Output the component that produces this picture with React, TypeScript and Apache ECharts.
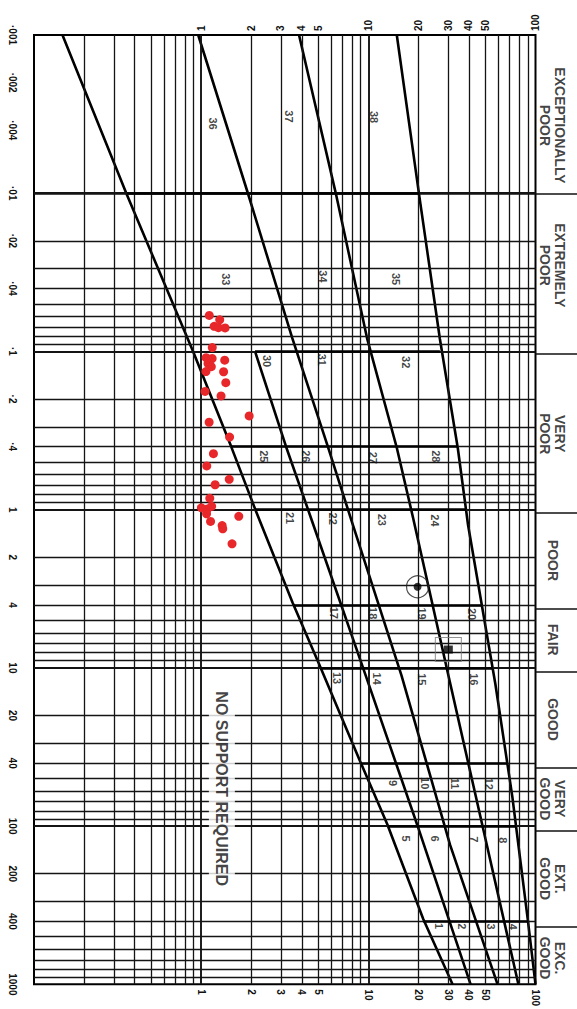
import React, { useEffect, useRef } from 'react';
import * as echarts from 'echarts';

const FONT = 'Liberation Sans';

// Axis tick labels
const deTickValues = [1, 2, 3, 4, 5, 10, 20, 30, 40, 50, 100];
const deTickTexts = ['1', '2', '3', '4', '5', '10', '20', '30', '40', '50', '100'];
const qTickValues = [0.001, 0.002, 0.004, 0.01, 0.02, 0.04, 0.1, 0.2, 0.4, 1, 2, 4, 10, 20, 40, 100, 200, 400, 1000];
const qTickTexts = ['·001', '·002', '·004', '·01', '·02', '·04', '·1', '·2', '·4', '1', '2', '4', '10', '20', '40', '100', '200', '400', '1000'];

// Log grid lines
const deMinorLines = [0.2, 0.3, 0.4, 0.5, 0.6, 0.7, 0.8, 0.9, 2, 3, 4, 5, 6, 7, 8, 9, 20, 30, 40, 50, 60, 70, 80, 90];
const deDecadeLines = [1, 10];
const qMinorLines = [
  0.002, 0.003, 0.004, 0.005, 0.006, 0.007, 0.008, 0.009,
  0.02, 0.03, 0.04, 0.05, 0.06, 0.07, 0.08, 0.09,
  0.2, 0.3, 0.4, 0.5, 0.6, 0.7, 0.8, 0.9,
  2, 3, 4, 5, 6, 7, 8, 9,
  20, 30, 40, 50, 60, 70, 80, 90,
  200, 300, 400, 500, 600, 700, 800, 900,
];
const qDecadeLines = [0.01, 0.1, 1, 10, 100];

// Heavy support-category boundary curves, [De, Q]
const boundary1 = [[0.148, 0.001], [0.359, 0.0102], [0.895, 0.1], [1.51, 0.398], [2.11, 1], [3.52, 3.86], [5.08, 9.49], [8.9, 38.6], [13.0, 97.7], [21.3, 387], [31.9, 1000]];
const boundary2 = [[2.1, 0.1], [3.22, 0.4], [4.5, 1.1], [9.65, 11.2], [19.6, 98], [40.9, 1000]];
const boundary3 = [[0.96, 0.001], [1.92, 0.0103], [3.5, 0.0818], [5.74, 0.402], [7.8, 1.11], [15.8, 11.2], [30.8, 131], [59.3, 1000]];
const boundary4 = [[3.85, 0.001], [6.44, 0.0104], [9.83, 0.0826], [14.8, 0.406], [18.5, 1.12], [30.2, 11.3], [51.2, 132], [79, 1000]];
const boundary5 = [[14.8, 0.001], [20.2, 0.0105], [26.8, 0.0834], [34.3, 0.409], [39.5, 1.25], [57.5, 12.6], [72.6, 64.6], [90, 393], [100, 1000]];

// Heavy horizontal category boundaries
const segmentQ = [0.01, 0.1, 0.4, 1, 4, 10, 40, 100, 400];
const segmentStartDe = [0.36, 2.1, 1.51, 2.11, 3.57, 5.15, 9.0, 13.1, 21.3];
const segmentEndDe = [20.2, 26.8, 34.3, 38.4, 47.8, 55.5, 67.8, 76.5, 90];

// Support category numbers
const categoryNames = ['1', '2', '3', '4', '5', '6', '7', '8', '9', '10', '11', '12', '13', '14', '15', '16', '17', '18', '19', '20', '21', '22', '23', '24', '25', '26', '27', '28', '30', '31', '32', '33', '34', '35', '36', '37', '38'];
const categoryDe = [26.5, 36.4, 54.2, 73.4, 16.8, 25, 42.8, 63.8, 14, 21.7, 32.8, 53, 6.48, 11.2, 20.8, 42.6, 6.27, 10.6, 21, 41.8, 3.42, 6.17, 12.1, 25.1, 2.38, 4.24, 10.6, 25.3, 2.47, 5.27, 16.9, 1.4, 5.34, 14.7, 1.17, 3.37, 10.8];
const categoryQ = [429, 430, 432, 433, 120, 120, 121, 123, 53.4, 53.6, 53.8, 54, 11.6, 11.7, 11.8, 11.8, 4.49, 4.51, 4.54, 4.57, 1.13, 1.14, 1.16, 1.17, 0.46, 0.46, 0.47, 0.46, 0.115, 0.113, 0.117, 0.035, 0.0336, 0.0349, 0.00363, 0.00327, 0.0033];

// Rock mass classes (right column)
const rockClasses = ['EXCEPTIONALLY\nPOOR', 'EXTREMELY\nPOOR', 'VERY\nPOOR', 'POOR', 'FAIR', 'GOOD', 'VERY\nGOOD', 'EXT.\nGOOD', 'EXC.\nGOOD'];
const rockClassQ = [0.0037, 0.028, 0.32, 2, 6.3, 20, 63, 200, 630];
const rockClassSeparators = [0.01, 0.1, 1, 4, 10, 40, 100, 400];

// Observed cases (red dots)
const dotDe = [1.118, 1.291, 1.196, 1.268, 1.39, 1.165, 1.071, 1.163, 1.099, 1.15, 1.068, 1.383, 1.362, 1.404, 1.055, 1.315, 1.937, 1.116, 1.479, 1.184, 1.08, 1.472, 1.212, 1.126, 1.003, 1.089, 1.155, 1.077, 1.138, 1.679, 1.335, 1.346, 1.53];
const dotQ = [0.0592, 0.0631, 0.0694, 0.0708, 0.071, 0.0945, 0.1095, 0.1108, 0.119, 0.1249, 0.134, 0.1136, 0.1344, 0.1576, 0.1789, 0.191, 0.2556, 0.2803, 0.3476, 0.4429, 0.529, 0.643, 0.696, 0.848, 0.973, 0.989, 0.952, 1.062, 1.187, 1.102, 1.26, 1.321, 1.643];

// Example points
const circledPoint = [19.7, 3.07];
const boxedPoint = [30.1, 7.66];

const noSupportText = 'NO SUPPORT REQUIRED';
const noSupportPos = [1.33, 58];

function lookup(values: number[], texts: string[], v: number) {
  const i = values.findIndex((q) => Math.abs(Math.log10(q) - Math.log10(v)) < 1e-6);
  return i >= 0 ? texts[i] : '';
}

const INK = '#141414';

function buildOption() {
  const boundaryLine = (name: string, data: number[][]) => ({
    name,
    type: 'line',
    xAxisIndex: 0,
    yAxisIndex: 0,
    data,
    showSymbol: false,
    symbol: 'none',
    silent: true,
    z: 4,
    lineStyle: { color: '#000', width: 2.6 },
  });

  const deAxis = (position: 'top' | 'bottom', margin: number) => ({
    type: 'log',
    logBase: 10,
    min: 0.1,
    max: 100,
    gridIndex: 0,
    position,
    axisLine: { show: false },
    axisTick: { show: false },
    splitLine: { show: false },
    minorSplitLine: { show: false },
    axisLabel: {
      customValues: deTickValues,
      rotate: -90,
      margin,
      fontSize: 10,
      fontWeight: 'bold',
      fontFamily: FONT,
      color: '#111',
      formatter: (v: number) => lookup(deTickValues, deTickTexts, v),
    },
  });

  return {
    animation: false,
    backgroundColor: '#ffffff',
    grid: [
      { left: 34, right: 41.5, top: 35, bottom: 19, show: true, borderColor: '#000', borderWidth: 2, backgroundColor: 'transparent', containLabel: false },
      { left: 535.5, right: 0, top: 35, bottom: 19, show: false, containLabel: false },
    ],
    xAxis: [
      deAxis('top', 4),
      deAxis('bottom', 5),
      { type: 'value', min: 0, max: 1, gridIndex: 1, show: false },
    ],
    yAxis: [
      {
        type: 'log',
        logBase: 10,
        min: 0.001,
        max: 1000,
        inverse: true,
        gridIndex: 0,
        axisLine: { show: false },
        axisTick: { show: false },
        splitLine: { show: false },
        axisLabel: {
          customValues: qTickValues,
          rotate: -90,
          margin: 17,
          fontSize: 10,
          fontWeight: 'bold',
          fontFamily: FONT,
          color: '#111',
          formatter: (v: number) => lookup(qTickValues, qTickTexts, v),
        },
      },
      { type: 'log', logBase: 10, min: 0.001, max: 1000, inverse: true, gridIndex: 1, show: false },
    ],
    series: [
      {
        name: 'grid',
        type: 'line',
        xAxisIndex: 0,
        yAxisIndex: 0,
        data: [],
        silent: true,
        z: 1,
        markLine: {
          silent: true,
          symbol: ['none', 'none'],
          label: { show: false },
          emphasis: { disabled: true },
          animation: false,
          lineStyle: { color: INK, width: 1.3, type: 'solid' },
          data: [
            ...deMinorLines.map((v) => ({ xAxis: v })),
            ...deDecadeLines.map((v) => ({ xAxis: v, lineStyle: { color: INK, width: 1.9, type: 'solid' } })),
            ...qMinorLines.map((v) => ({ yAxis: v })),
            ...qDecadeLines.map((v) => ({ yAxis: v, lineStyle: { color: INK, width: 1.9, type: 'solid' } })),
          ],
        },
      },
      {
        name: 'category boundaries',
        type: 'line',
        xAxisIndex: 0,
        yAxisIndex: 0,
        data: [],
        silent: true,
        z: 3,
        markLine: {
          silent: true,
          symbol: ['none', 'none'],
          label: { show: false },
          emphasis: { disabled: true },
          animation: false,
          lineStyle: { color: '#000', width: 2.6, type: 'solid' },
          data: segmentQ.map((q, i) => [{ coord: [segmentStartDe[i], q] }, { coord: [segmentEndDe[i], q] }]),
        },
      },
      boundaryLine('b1', boundary1),
      boundaryLine('b2', boundary2),
      boundaryLine('b3', boundary3),
      boundaryLine('b4', boundary4),
      boundaryLine('b5', boundary5),
      {
        name: 'category numbers',
        type: 'scatter',
        xAxisIndex: 0,
        yAxisIndex: 0,
        symbol: 'circle',
        symbolSize: 1,
        silent: true,
        z: 5,
        itemStyle: { color: 'rgba(0,0,0,0)' },
        label: {
          show: true,
          position: 'inside',
          rotate: -90,
          fontSize: 11,
          fontWeight: 'bold',
          fontFamily: FONT,
          color: '#111',
          formatter: (p: any) => p.name,
        },
        data: categoryNames.map((n, i) => ({ name: n, value: [categoryDe[i], categoryQ[i]] })),
      },
      {
        name: 'no support',
        type: 'scatter',
        xAxisIndex: 0,
        yAxisIndex: 0,
        symbol: 'circle',
        symbolSize: 1,
        silent: true,
        z: 5,
        itemStyle: { color: 'rgba(0,0,0,0)' },
        label: {
          show: true,
          position: 'inside',
          rotate: -90,
          fontSize: 16,
          fontWeight: 'bold',
          fontFamily: FONT,
          color: '#111',
          backgroundColor: '#ffffff',
          padding: [5, 3],
          formatter: () => noSupportText,
        },
        data: [{ name: 'text', value: noSupportPos }],
      },
      {
        name: 'circled example',
        type: 'scatter',
        xAxisIndex: 0,
        yAxisIndex: 0,
        symbol: 'circle',
        symbolSize: 22,
        silent: true,
        z: 6,
        itemStyle: { color: 'rgba(255,255,255,0)', borderColor: '#222', borderWidth: 1.2 },
        data: [circledPoint],
      },
      {
        name: 'circled example dot',
        type: 'scatter',
        xAxisIndex: 0,
        yAxisIndex: 0,
        symbol: 'circle',
        symbolSize: 8,
        silent: true,
        z: 6,
        itemStyle: { color: '#000' },
        data: [circledPoint],
      },
      {
        name: 'boxed example',
        type: 'scatter',
        xAxisIndex: 0,
        yAxisIndex: 0,
        symbol: 'rect',
        symbolSize: [26, 24],
        silent: true,
        z: 6,
        itemStyle: { color: 'rgba(255,255,255,0)', borderColor: '#777', borderWidth: 1 },
        data: [boxedPoint],
      },
      {
        name: 'boxed example dot',
        type: 'scatter',
        xAxisIndex: 0,
        yAxisIndex: 0,
        symbol: 'rect',
        symbolSize: [9, 8],
        silent: true,
        z: 6,
        itemStyle: { color: '#000' },
        data: [boxedPoint],
      },
      {
        name: 'cases',
        type: 'scatter',
        xAxisIndex: 0,
        yAxisIndex: 0,
        symbol: 'circle',
        symbolSize: 9,
        z: 8,
        itemStyle: { color: '#e8272a', opacity: 1 },
        data: dotDe.map((d, i) => [d, dotQ[i]]),
      },
      {
        name: 'rock classes',
        type: 'scatter',
        xAxisIndex: 2,
        yAxisIndex: 1,
        symbol: 'circle',
        symbolSize: 1,
        silent: true,
        z: 5,
        itemStyle: { color: 'rgba(0,0,0,0)' },
        label: {
          show: true,
          position: 'inside',
          rotate: -90,
          fontSize: 14,
          lineHeight: 15,
          fontWeight: 'bold',
          fontFamily: FONT,
          color: '#111',
          align: 'center',
          formatter: (p: any) => p.name,
        },
        data: rockClasses.map((n, i) => ({ name: n, value: [0.42, rockClassQ[i]] })),
        markLine: {
          silent: true,
          symbol: ['none', 'none'],
          label: { show: false },
          emphasis: { disabled: true },
          animation: false,
          lineStyle: { color: '#111', width: 1.5, type: 'solid' },
          data: rockClassSeparators.map((q) => ({ yAxis: q })),
        },
      },
    ],
  };
}

export default function App() {
  const ref = useRef<HTMLDivElement>(null);
  useEffect(() => {
    if (!ref.current) return;
    const chart = echarts.init(ref.current, null, { renderer: 'svg' });
    chart.setOption(buildOption() as any);
    return () => chart.dispose();
  }, []);
  return (
    <div
      ref={ref}
      style={{ position: 'absolute', left: 0, top: 0, width: 577, height: 1009, background: '#fff' }}
    />
  );
}
